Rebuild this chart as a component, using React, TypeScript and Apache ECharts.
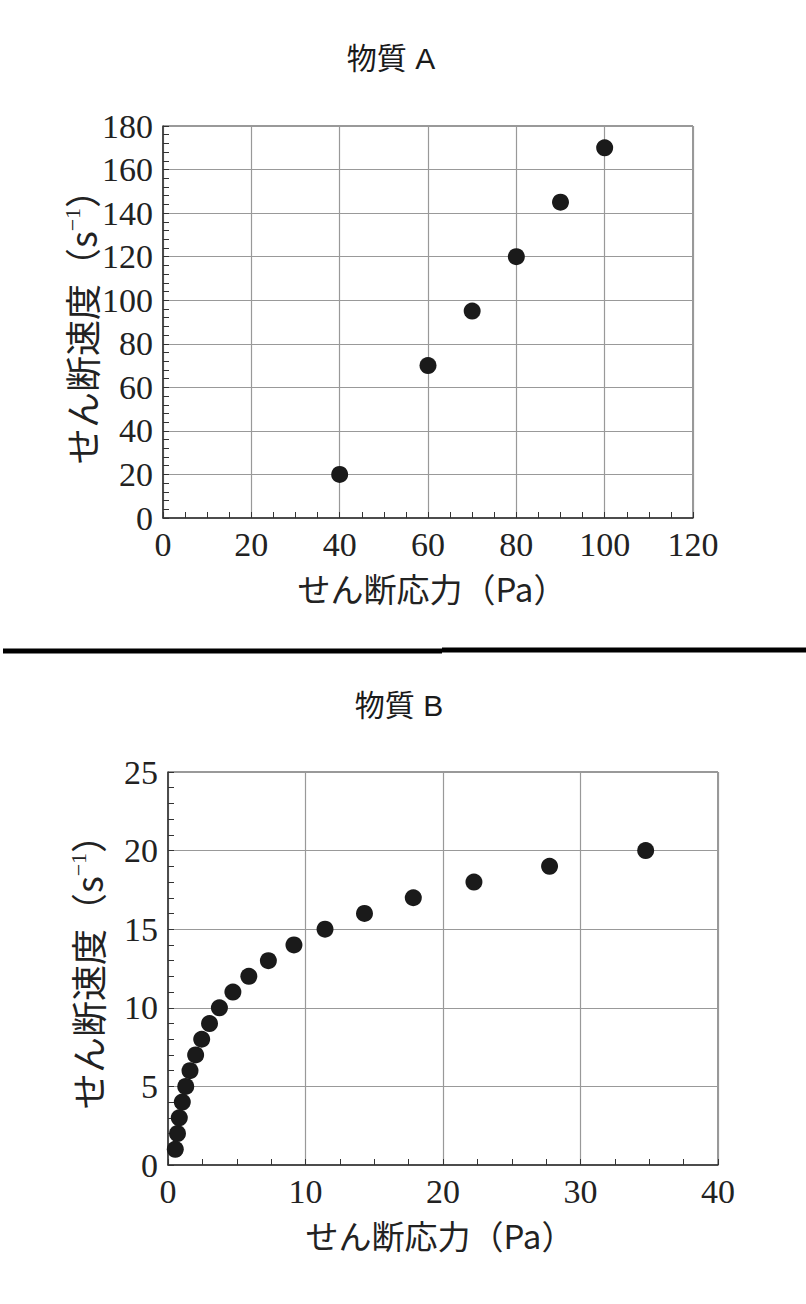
import React, { useEffect, useRef } from "react";
import * as echarts from "echarts";

// ---- data ----
const stressA = [40, 60, 70, 80, 90, 100];
const rateA = [20, 70, 95, 120, 145, 170];

const stressB = [0.53, 0.69, 0.82, 1.04, 1.29, 1.6, 2.01, 2.45, 3.02, 3.74, 4.72, 5.88, 7.3, 9.16, 11.42, 14.29, 17.84, 22.25, 27.75, 34.74];
const rateB = [1, 2, 3, 4, 5, 6, 7, 8, 9, 10, 11, 12, 13, 14, 15, 16, 17, 18, 19, 20];

const titleAText = "物質 A";
const titleBText = "物質 B";
const xName = "せん断応力（Pa）";
const yNameMain = "せん断速度（s";
const yNameSup = "−1";
const yNameEnd = "）";

const axisA = { xMin: 0, xMax: 120, xInterval: 20, yMin: 0, yMax: 180, yInterval: 20 };
const axisB = { xMin: 0, xMax: 40, xInterval: 10, yMin: 0, yMax: 25, yInterval: 5 };

const SERIF = "'Liberation Serif', 'Noto Sans CJK JP', serif";
const CJK = "'Noto Sans CJK JP', 'Liberation Serif', serif";

function makeXAxis(gridIndex: number, a: typeof axisA) {
  return {
    type: "value" as const,
    gridIndex,
    min: a.xMin,
    max: a.xMax,
    interval: a.xInterval,
    axisLine: { show: true, onZero: false, lineStyle: { color: "#333", width: 1.5 } },
    axisTick: { show: true, inside: true, length: 6, lineStyle: { color: "#333" } },
    minorTick: { show: true, splitNumber: 4, length: 6, lineStyle: { color: "#333" } },
    splitLine: { show: true, lineStyle: { color: "#999", width: 1.2 } },
    axisLabel: { fontFamily: SERIF, fontSize: 34, color: "#222", margin: 9 },
  };
}

function makeYAxis(gridIndex: number, a: typeof axisA) {
  return {
    type: "value" as const,
    gridIndex,
    min: a.yMin,
    max: a.yMax,
    interval: a.yInterval,
    axisLine: { show: true, onZero: false, lineStyle: { color: "#333", width: 1.5 } },
    axisTick: { show: true, inside: true, length: 6, lineStyle: { color: "#333" } },
    minorTick: { show: true, splitNumber: 5, length: 6, lineStyle: { color: "#333" } },
    splitLine: { show: true, lineStyle: { color: "#999", width: 1.2 } },
    axisLabel: { fontFamily: SERIF, fontSize: 34, color: "#222", margin: 10 },
  };
}

function yNameText(x: number, y: number) {
  return {
    type: "text" as const,
    x,
    y,
    rotation: Math.PI / 2,
    style: {
      text: `{n|${yNameMain}}{s|${yNameSup}}{n|${yNameEnd}}`,
      align: "center",
      verticalAlign: "middle",
      fontFamily: CJK,
      fontSize: 36,
      fill: "#222",
      rich: {
        n: { fontFamily: CJK, fontSize: 36, lineHeight: 40, fill: "#222" },
        s: { fontFamily: SERIF, fontSize: 22, lineHeight: 40, verticalAlign: "top", fill: "#222" },
      },
    },
  };
}

function xNameText(x: number, y: number) {
  return {
    type: "text" as const,
    x,
    y,
    style: {
      text: xName,
      align: "center",
      verticalAlign: "middle",
      fontFamily: CJK,
      fontSize: 33,
      fill: "#222",
    },
  };
}

function titleText(x: number, y: number, text: string) {
  return {
    type: "text" as const,
    x,
    y,
    style: {
      text,
      align: "center",
      verticalAlign: "middle",
      fontFamily: "'Liberation Sans', 'Noto Sans CJK JP', sans-serif",
      fontSize: 30,
      fill: "#1a1a1a",
    },
  };
}

export default function App() {
  const ref = useRef<HTMLDivElement>(null);
  useEffect(() => {
    if (!ref.current) return;
    const chart = echarts.init(ref.current, undefined, { renderer: "svg" });
    chart.setOption({
      animation: false,
      backgroundColor: "#fff",
      grid: [
        { left: 163, top: 126, width: 530, height: 392, show: true, borderColor: "#333", borderWidth: 1, backgroundColor: "transparent" },
        { left: 168, top: 772, width: 550, height: 393, show: true, borderColor: "#333", borderWidth: 1, backgroundColor: "transparent" },
      ],
      xAxis: [makeXAxis(0, axisA), makeXAxis(1, axisB)],
      yAxis: [makeYAxis(0, axisA), makeYAxis(1, axisB)],
      series: [
        {
          type: "scatter",
          xAxisIndex: 0,
          yAxisIndex: 0,
          data: stressA.map((x, i) => [x, rateA[i]]),
          symbolSize: 17,
          itemStyle: { color: "#1a1a1a", opacity: 1 },
        },
        {
          type: "scatter",
          xAxisIndex: 1,
          yAxisIndex: 1,
          data: stressB.map((x, i) => [x, rateB[i]]),
          symbolSize: 17,
          itemStyle: { color: "#1a1a1a", opacity: 1 },
        },
      ],
      graphic: [
        titleText(391, 58, titleAText),
        titleText(399, 705, titleBText),
        xNameText(432, 588),
        xNameText(440, 1235),
        yNameText(81, 318),
        yNameText(87, 963),
        { type: "line", shape: { x1: 3, y1: 651, x2: 442, y2: 651 }, style: { stroke: "#000", lineWidth: 5 } },
        { type: "line", shape: { x1: 442, y1: 650, x2: 806, y2: 650 }, style: { stroke: "#000", lineWidth: 5 } },
      ],
    });
    return () => chart.dispose();
  }, []);
  return <div ref={ref} style={{ position: "absolute", left: 0, top: 0, width: 806, height: 1304 }} />;
}
